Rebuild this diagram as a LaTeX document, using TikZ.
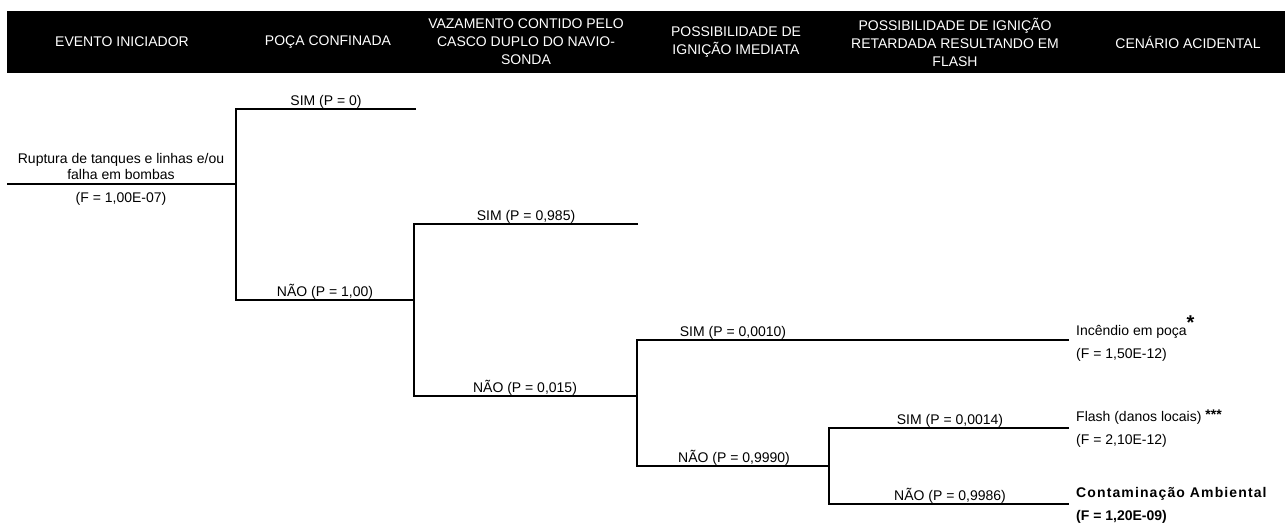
\documentclass[tikz,border=0pt]{standalone}
\usepackage{fontspec}
\setmainfont{Liberation Sans}
\begin{document}
\begin{tikzpicture}[x=1pt,y=-1pt,
  every node/.style={font=\fontsize{14}{18}\selectfont, inner sep=0pt},
  branch/.style={line width=1.8pt, line join=miter},
  hdr/.style={text=white, align=center, anchor=center},
  lbl/.style={anchor=base},
  outc/.style={anchor=base west}]
\useasboundingbox (0,0) rectangle (1287,522);
% header band
\fill[black] (7,11) rectangle (1285,73);
\node[hdr] (h1) at (122,42) {EVENTO INICIADOR};
\node[hdr] (h2) at (328,42) {POÇA CONFINADA};
\node[hdr] (h3) at (526,42) {VAZAMENTO CONTIDO PELO\\CASCO DUPLO DO NAVIO-\\SONDA};
\node[hdr] (h4) at (736,42) {POSSIBILIDADE DE\\IGNIÇÃO IMEDIATA};
\node[hdr] (h5) at (955,42) {POSSIBILIDADE DE IGNIÇÃO\\RETARDADA RESULTANDO EM\\FLASH};
\node[hdr] (h6) at (1188,42) {CENÁRIO ACIDENTAL};
% tree points
\coordinate (s) at (7,184);
\coordinate (b1) at (236,184);
\coordinate (e1) at (416,109);
\coordinate (b2) at (414,300);
\coordinate (e2) at (638,224);
\coordinate (b3) at (637,396);
\coordinate (e3) at (1069,340);
\coordinate (b4) at (829,466);
\coordinate (e4) at (1069,428);
\coordinate (e5) at (1069,504);
\draw[branch] (s) -- (b1);
\draw[branch] (e1) -| (b1) |- (b2);
\draw[branch] (e2) -| (b2) |- (b3);
\draw[branch] (e3) -| (b3) |- (b4);
\draw[branch] (e4) -| (b4) |- (e5);
% initiating event text
\node[lbl] (t1) at (121,163) {Ruptura de tanques e linhas e/ou};
\node[lbl] (t2) at (121,179) {falha em bombas};
\node[lbl] (t3) at (121,202) {(F = 1,00E-07)};
% branch labels
\node[lbl] (l1) at (326,105) {SIM (P = 0)};
\node[lbl] (l2) at (325,296) {NÃO (P = 1,00)};
\node[lbl] (l3) at (526,220) {SIM (P = 0,985)};
\node[lbl] (l4) at (525,392) {NÃO (P = 0,015)};
\node[lbl] (l5) at (733,336) {SIM (P = 0,0010)};
\node[lbl] (l6) at (734,462) {NÃO (P = 0,9990)};
\node[lbl] (l7) at (950,424) {SIM (P = 0,0014)};
\node[lbl] (l8) at (950,500) {NÃO (P = 0,9986)};
% outcomes
\node[outc] (o1) at (1076,335.5) {Incêndio em poça\raisebox{6pt}{\fontsize{20}{20}\selectfont\bfseries *}};
\node[outc] (o1f) at (1076,358.5) {(F = 1,50E-12)};
\node[outc] (o2) at (1076,421.5) {Flash (danos locais) \raisebox{2pt}{\bfseries ***}};
\node[outc] (o2f) at (1076,444.5) {(F = 2,10E-12)};
\node[outc] (o3) at (1076,497.5) {\bfseries\addfontfeature{LetterSpace=8}Contaminação Ambiental};
\node[outc] (o3f) at (1076,520) {\bfseries (F = 1,20E-09)};
\end{tikzpicture}
\end{document}
